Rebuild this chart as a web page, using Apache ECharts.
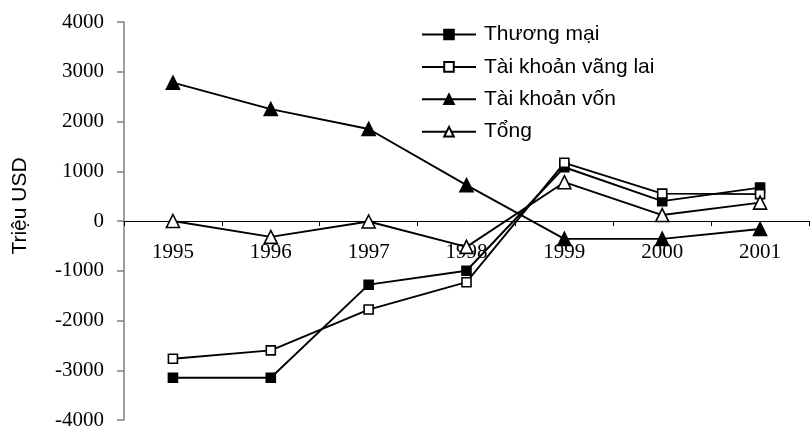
<!DOCTYPE html>
<html>
<head>
<meta charset="utf-8">
<script src="https://cdn.jsdelivr.net/npm/echarts@6/dist/echarts.min.js"></script>
<style>html,body{margin:0;padding:0;background:#fff}#c{width:810px;height:427px}</style>
</head>
<body>
<div id="c"></div>
<script>
var years = ['1995','1996','1997','1998','1999','2000','2001'];
var thuongMai = [-3150, -3150, -1280, -1000, 1080, 400, 670];
var vangLai = [-2770, -2600, -1780, -1230, 1170, 550, 540];
var von = [2780, 2250, 1850, 720, -360, -360, -160];
var tong = [0, -320, -10, -520, 780, 120, 370];
var yTicks = { min: -4000, max: 4000, interval: 1000 };
var seriesNames = ['Thương mại', 'Tài khoản vãng lai', 'Tài khoản vốn', 'Tổng'];

var gridTop = 22, gridBottom = 7, H = 427;
var plotH = H - gridTop - gridBottom;
// distance from bottom of plot up to the zero line
var zeroOffset = plotH * (0 - yTicks.min) / (yTicks.max - yTicks.min);

var chart = echarts.init(document.getElementById('c'), null, { renderer: 'canvas' });
function mk(name, data, symbol, size, fill) {
  return {
    name: name, type: 'line', data: data, symbol: symbol, symbolSize: size,
    showAllSymbol: true,
    lineStyle: { color: '#000', width: 1.9 },
    itemStyle: { color: fill, borderColor: '#000', borderWidth: 1.6 },
    emphasis: { disabled: true },
    animation: false
  };
}
chart.setOption({
  animation: false,
  grid: { left: 124, right: 1, top: gridTop, bottom: gridBottom, containLabel: false, outerBoundsMode: 'none' },
  legend: {
    orient: 'vertical', left: 421, top: 24, padding: 0, itemWidth: 54, itemHeight: 12, itemGap: 11.4,
    data: seriesNames,
    textStyle: { fontFamily: 'Liberation Sans', fontSize: 21, color: '#000', padding: [0, 0, 0, 3] }
  },
  graphic: [{
    type: 'text',
    rotation: Math.PI / 2, x: 20, y: 206,
    style: { text: 'Triệu USD', font: '21px "Liberation Sans"', fill: '#000', textAlign: 'center', textVerticalAlign: 'middle' }
  }],
  xAxis: {
    type: 'category', data: years, boundaryGap: true, position: 'bottom',
    offset: -zeroOffset,
    axisLine: { onZero: false, lineStyle: { color: '#000', width: 1 } },
    axisTick: { show: true, alignWithLabel: false, length: 5, inside: false, lineStyle: { color: '#000' } },
    axisLabel: { margin: 21, fontFamily: 'Liberation Serif', fontSize: 21, color: '#000' },
    splitLine: { show: false }
  },
  yAxis: {
    type: 'value', min: yTicks.min, max: yTicks.max, interval: yTicks.interval,
    axisLine: { show: true, lineStyle: { color: '#808080', width: 1.5 } },
    axisTick: { show: true, length: 7, lineStyle: { color: '#808080', width: 1.5 } },
    axisLabel: { margin: 20, fontFamily: 'Liberation Serif', fontSize: 21, color: '#000',
      formatter: function (v) { return String(v); } },
    splitLine: { show: false }
  },
  series: [
    mk(seriesNames[0], thuongMai, 'rect', 9, '#000'),
    mk(seriesNames[1], vangLai, 'rect', 9, '#fff'),
    mk(seriesNames[2], von, 'triangle', 13, '#000'),
    mk(seriesNames[3], tong, 'triangle', 13, '#fff')
  ]
});
</script>
</body>
</html>
